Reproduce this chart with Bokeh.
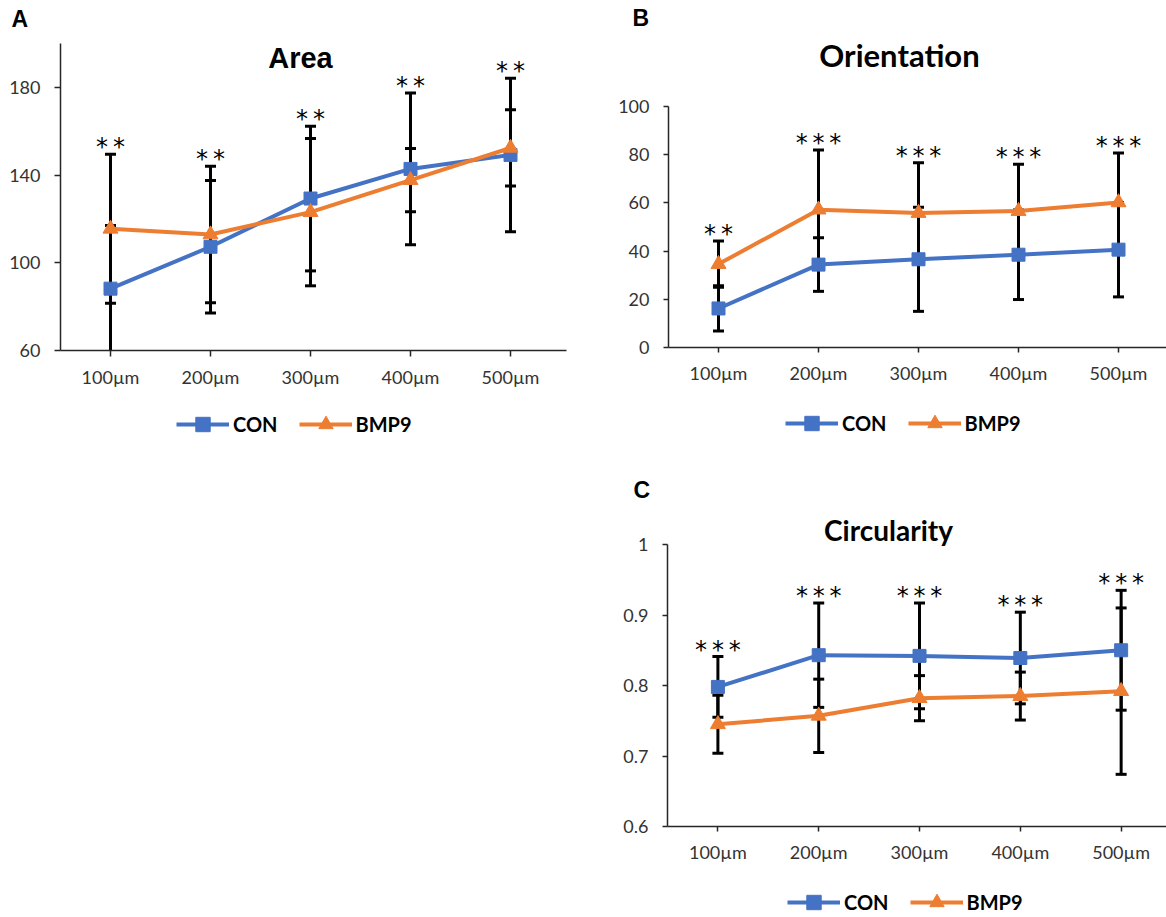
from bokeh.plotting import figure
from bokeh.layouts import row, column
from bokeh.models import (Range1d, FixedTicker, Label, Legend, LegendItem,
                          ColumnDataSource, LinearAxis)
from bokeh.core.properties import value
from bokeh.embed import file_html
from bokeh.resources import INLINE

# ---------------- data ----------------
categories = ["100µm", "200µm", "300µm", "400µm", "500µm"]
series_names = ["CON", "BMP9"]

area_con = [88.2, 107.3, 129.3, 142.8, 149.2]
area_con_sd = [28.8, 30.2, 33.0, 34.6, 35.0]
area_bmp9 = [115.5, 112.9, 123.1, 137.7, 152.4]
area_bmp9_sd = [34.0, 31.1, 33.6, 14.4, 17.4]
area_sig = ["**", "**", "**", "**", "**"]
area_yticks = [60, 100, 140, 180]
area_ylabels = ["60", "100", "140", "180"]

orient_con = [16.2, 34.4, 36.6, 38.5, 40.6]
orient_con_sd = [9.4, 11.1, 21.6, 18.6, 19.6]
orient_bmp9 = [34.6, 57.2, 55.8, 56.6, 60.2]
orient_bmp9_sd = [9.6, 24.8, 20.9, 19.4, 20.5]
orient_sig = ["**", "***", "***", "***", "***"]
orient_yticks = [0, 20, 40, 60, 80, 100]
orient_ylabels = ["0", "20", "40", "60", "80", "100"]

circ_con = [0.798, 0.843, 0.842, 0.839, 0.850]
circ_con_sd = [0.043, 0.074, 0.075, 0.065, 0.085]
circ_bmp9 = [0.745, 0.757, 0.782, 0.785, 0.792]
circ_bmp9_sd = [0.041, 0.052, 0.032, 0.034, 0.118]
circ_sig = ["***", "***", "***", "***", "***"]
circ_yticks = [0.6, 0.7, 0.8, 0.9, 1.0]
circ_ylabels = ["0.6", "0.7", "0.8", "0.9", "1"]

BLUE = "#4472C4"
ORANGE = "#ED7D31"
TICK_COLOR = "#333333"
AXIS_COLOR = "#262626"
LEG_GLYPH_H = 36


def make_panel(letter, title, con, con_sd, bmp, bmp_sd, sig, yticks, ylabels, cfg):
    W, H = cfg["W"], cfg["H"]
    al, at, ab, ar = cfg["axes_box"]
    xlim, ylim = cfg["xlim"], cfg["ylim"]
    # full-canvas ranges so that the plotting area lands at axes_box
    sx = (ar - al) / (xlim[1] - xlim[0])
    sy = (ab - at) / (ylim[1] - ylim[0])
    xr = Range1d(xlim[0] - al / sx, xlim[0] + (W - al) / sx)
    yr = Range1d(ylim[0] - (H - ab) / sy, ylim[0] + ab / sy)

    p = figure(width=W, height=H, x_range=xr, y_range=yr,
               x_axis_location=None, y_axis_location=None,
               output_backend="svg", toolbar_location=None)
    p.min_border = 0
    p.outline_line_color = None
    p.xgrid.visible = False
    p.ygrid.visible = False
    p.background_fill_color = "white"
    p.border_fill_color = "white"

    xs = list(range(len(categories)))
    xaxis = LinearAxis(fixed_location=ylim[0], bounds=xlim,
                       ticker=FixedTicker(ticks=xs),
                       major_label_overrides={i: c for i, c in enumerate(categories)},
                       major_label_standoff=9)
    yaxis = LinearAxis(fixed_location=xlim[0], bounds=ylim,
                       ticker=FixedTicker(ticks=yticks),
                       major_label_overrides={t: l for t, l in zip(yticks, ylabels)},
                       major_label_standoff=cfg["ystand"])
    for ax in (xaxis, yaxis):
        ax.axis_line_color = AXIS_COLOR
        ax.axis_line_width = 1.5
        ax.major_tick_line_color = AXIS_COLOR
        ax.major_tick_line_width = 1.5
        ax.major_tick_in = 0
        ax.major_tick_out = cfg["tick"]
        ax.minor_tick_line_color = None
        ax.major_label_text_font = "Lato"
        ax.major_label_text_font_size = "18px"
        ax.major_label_text_color = TICK_COLOR
    p.add_layout(xaxis, "below")
    p.add_layout(yaxis, "left")

    srcs, caps = [], []
    for m, sd in ((con, con_sd), (bmp, bmp_sd)):
        lo = [a - b for a, b in zip(m, sd)]
        hi = [a + b for a, b in zip(m, sd)]
        srcs.append(ColumnDataSource(dict(
            x=xs, y=m, lo=[max(v, ylim[0]) for v in lo], hi=hi)))
        cx = [x for x, v in zip(xs, lo) if v >= ylim[0]] + xs
        cy = [v for v in lo if v >= ylim[0]] + hi
        caps.append(ColumnDataSource(dict(x=cx, y=cy)))

    # error bars (under the lines)
    for s, c in zip(srcs, caps):
        p.segment(x0="x", y0="lo", x1="x", y1="hi", source=s,
                  line_color="black", line_width=3)
        p.scatter(x="x", y="y", source=c, marker="dash", size=11,
                  line_color="black", line_width=3)

    l1 = p.line("x", "y", source=srcs[0], line_color=BLUE, line_width=4)
    m1 = p.scatter("x", "y", source=srcs[0], marker="square", size=13,
                   fill_color=BLUE, line_color=BLUE)
    l2 = p.line("x", "y", source=srcs[1], line_color=ORANGE, line_width=4)
    m2 = p.scatter("x", "y", source=srcs[1], marker="triangle", size=15,
                   fill_color=ORANGE, line_color=ORANGE)

    top = [max(a, b) for a, b in zip(srcs[0].data["hi"], srcs[1].data["hi"])]
    star_src = ColumnDataSource(dict(x=xs, y=top, t=["\u2009".join(s) for s in sig]))
    p.text(x="x", y="y", text="t", source=star_src,
           text_font=value("DejaVu Sans"), text_font_size=value("24px"),
           text_align="center", text_baseline="alphabetic", y_offset=-7,
           text_color="black")

    tx, ty = cfg["title_pos"]
    p.add_layout(Label(x=tx, y=H - ty, x_units="screen", y_units="screen",
                       text=title, text_font=cfg["title_font"], text_font_size=cfg["title_size"],
                       text_font_style="bold", text_align="center", text_baseline="alphabetic",
                       text_color="black"))
    lx, ly = cfg["letter_pos"]
    p.add_layout(Label(x=lx, y=H - ly, x_units="screen", y_units="screen",
                       text=letter, text_font="Liberation Sans", text_font_size="23px",
                       text_font_style="bold", text_align="left", text_baseline="alphabetic",
                       text_color="black"))

    gx, gy = cfg["legend_pos"]  # left edge, vertical centre (from top)
    legend = Legend(items=[LegendItem(label=series_names[0], renderers=[l1, m1]),
                           LegendItem(label=series_names[1], renderers=[l2, m2])],
                    location=(gx, H - gy - LEG_GLYPH_H / 2), orientation="horizontal",
                    glyph_width=53, glyph_height=LEG_GLYPH_H, label_standoff=4, spacing=21,
                    padding=0, margin=0, border_line_color=None,
                    background_fill_alpha=0,
                    label_text_font="Lato", label_text_font_style="bold",
                    label_text_font_size="20px", label_text_color="black")
    p.add_layout(legend)
    return p


cfgA = dict(W=585, H=455, axes_box=(60, 43, 350, 566), xlim=(-0.5, 4.56), ylim=(60, 200),
            tick=6, ystand=14,
            title_pos=(300, 57.5), title_font="Liberation Sans", title_size="29px",
            letter_pos=(11, 18), legend_pos=(176, 424))
cfgB = dict(W=581, H=465, axes_box=(83, 106, 347, 581), xlim=(-0.5, 4.48), ylim=(0, 100),
            tick=5, ystand=14,
            title_pos=(314, 54.5), title_font="Lato", title_size="31px",
            letter_pos=(47, 17.5), legend_pos=(200, 423))
cfgC = dict(W=581, H=451, axes_box=(82, 79, 361, 581), xlim=(-0.5, 4.45), ylim=(0.6, 1.0),
            tick=5, ystand=14,
            title_pos=(303, 64), title_font="Lato", title_size="28px",
            letter_pos=(48, 24), legend_pos=(202, 437))

pA = make_panel("A", "Area", area_con, area_con_sd, area_bmp9, area_bmp9_sd,
                area_sig, area_yticks, area_ylabels, cfgA)
pB = make_panel("B", "Orientation", orient_con, orient_con_sd, orient_bmp9, orient_bmp9_sd,
                orient_sig, orient_yticks, orient_ylabels, cfgB)
pC = make_panel("C", "Circularity", circ_con, circ_con_sd, circ_bmp9, circ_bmp9_sd,
                circ_sig, circ_yticks, circ_ylabels, cfgC)

layout = row(pA, column(pB, pC))
open("out.html", "w").write(file_html(layout, INLINE))
